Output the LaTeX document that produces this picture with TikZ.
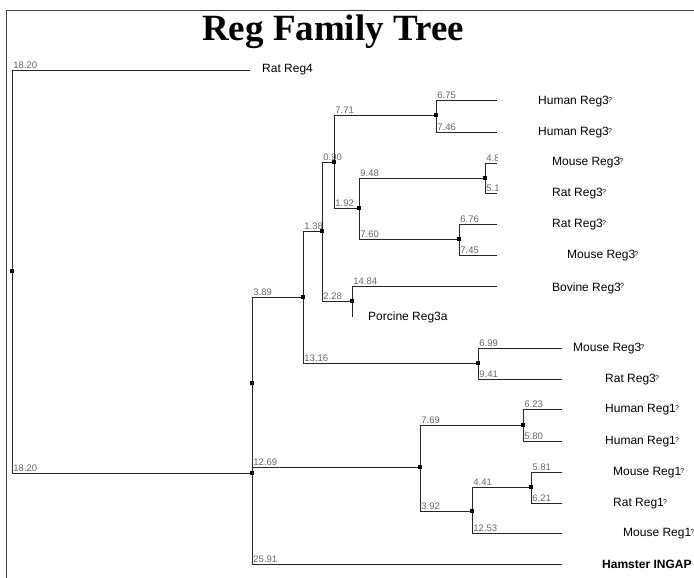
\documentclass[tikz,border=0pt]{standalone}
\usepackage{fontspec}
\setmainfont{Liberation Serif}
\setsansfont{Liberation Sans}
\usepackage{tikz}
\usetikzlibrary{positioning}

\tikzset{
  branch/.style={draw=black!85, line width=0.9pt},
  dot/.style={rectangle, fill=black, inner sep=0pt, minimum size=3.6pt},
  leaf/.style={anchor=west, inner sep=0pt, font=\sffamily\fontsize{12}{12}\selectfont},
  blen/.style={anchor=south west, inner sep=1pt, text=black!60, font=\sffamily\fontsize{9.5}{9.5}\selectfont},
}
\newcommand{\qmark}{\kern-0.8pt\raisebox{2.6pt}{\fontsize{7}{7}\selectfont ?}}

\begin{document}
\begin{tikzpicture}[x=1pt, y=-1pt]
    \useasboundingbox (0,0) rectangle (694,578);
    \draw[black!75, line width=0.8pt] (6.5,578) -- (6.5,10) -- (694,10);

    \node[font=\bfseries\fontsize{37}{37}\selectfont, anchor=base] (title) at (333,41) {Reg Family Tree};

    % inner nodes
    \node[dot] (R) at (12,271) {};
    \node[dot] (A) at (252,473) {};
    \node[dot] (Amid) at (252,383) {};
    \node[dot] (B) at (303,297) {};
    \node[dot] (C) at (322,231) {};
    \node[dot] (E) at (334,162) {};
    \node[dot] (F) at (436,115) {};
    \node[dot] (G) at (359,208) {};
    \node[dot] (H) at (485,178) {};
    \node[dot] (I) at (459,239) {};
    \node[dot] (J) at (352,301) {};
    \node[dot] (K) at (478,363) {};
    \node[dot] (L) at (420,467) {};
    \node[dot] (M) at (523,425) {};
    \node[dot] (N) at (472,511) {};
    \node[dot] (O) at (531,487) {};

    % leaf ends
    \coordinate (RR4) at (250,70);
    \coordinate (HR3a) at (497,100);
    \coordinate (HR3b) at (497,132);
    \coordinate (MR3a) at (497,163);
    \coordinate (RR3a) at (497,193);
    \coordinate (RR3b) at (497,224);
    \coordinate (MR3b) at (497,255);
    \coordinate (BR3) at (497,286);
    \coordinate (PR3) at (352,317);
    \coordinate (MR3c) at (562,348);
    \coordinate (RR3c) at (562,379);
    \coordinate (HR1a) at (562,409);
    \coordinate (HR1b) at (562,441);
    \coordinate (MR1a) at (562,472);
    \coordinate (RR1) at (562,503);
    \coordinate (MR1b) at (562,533);
    \coordinate (HIN) at (562,564);

    \draw[branch] (R) |- (RR4) node[pos=0.5, blen] {18.20};
    \draw[branch] (R) |- (A) node[pos=0.5, blen] {18.20};
    \draw[branch] (A) |- (B) node[pos=0.5, blen] {3.89};
    \draw[branch] (A) |- (L) node[pos=0.5, blen] {12.69};
    \draw[branch] (A) |- (HIN) node[pos=0.5, blen] {25.91};
    \draw[branch] (B) |- (C) node[pos=0.5, blen] {1.38};
    \draw[branch] (B) |- (K) node[pos=0.5, blen] {13.16};
    \draw[branch] (C) |- (E) node[pos=0.5, blen] {0.90};
    \draw[branch] (C) |- (J) node[pos=0.5, blen] {2.28};
    \draw[branch] (E) |- (F) node[pos=0.5, blen] {7.71};
    \draw[branch] (E) |- (G) node[pos=0.5, blen] {1.92};
    \draw[branch] (F) |- (HR3a) node[pos=0.5, blen] {6.75};
    \draw[branch] (F) |- (HR3b) node[pos=0.5, blen] {7.46};
    \draw[branch] (G) |- (H) node[pos=0.5, blen] {9.48};
    \draw[branch] (G) |- (I) node[pos=0.5, blen] {7.60};
    \draw[branch] (H) |- (MR3a) node[pos=0.5, blen] {4.8};
    \draw[branch] (H) |- (RR3a) node[pos=0.5, blen] {5.1};
    \draw[branch] (I) |- (RR3b) node[pos=0.5, blen] {6.76};
    \draw[branch] (I) |- (MR3b) node[pos=0.5, blen] {7.45};
    \draw[branch] (J) |- (BR3) node[pos=0.5, blen] {14.84};
    \draw[branch] (J) |- (PR3);
    \draw[branch] (K) |- (MR3c) node[pos=0.5, blen] {6.99};
    \draw[branch] (K) |- (RR3c) node[pos=0.5, blen] {9.41};
    \draw[branch] (L) |- (M) node[pos=0.5, blen] {7.69};
    \draw[branch] (L) |- (N) node[pos=0.5, blen] {3.92};
    \draw[branch] (M) |- (HR1a) node[pos=0.5, blen] {6.23};
    \draw[branch] (M) |- (HR1b) node[pos=0.5, blen] {5.80};
    \draw[branch] (N) |- (O) node[pos=0.5, blen] {4.41};
    \draw[branch] (N) |- (MR1b) node[pos=0.5, blen] {12.53};
    \draw[branch] (O) |- (MR1a) node[pos=0.5, blen] {5.81};
    \draw[branch] (O) |- (RR1) node[pos=0.5, blen] {6.21};

    % label panel hides the cut branch lengths
    \fill[white] (497.6,150) rectangle (530,200);

    % leaf names
    \node[leaf] (lRR4) at (262,70) {Rat Reg4};
    \node[leaf] (lHR3a) at (538,102) {Human Reg3\qmark};
    \node[leaf] (lHR3b) at (538,133) {Human Reg3\qmark};
    \node[leaf] (lMR3a) at (552,163) {Mouse Reg3\qmark};
    \node[leaf] (lRR3a) at (552,194) {Rat Reg3\qmark};
    \node[leaf] (lRR3b) at (552,225) {Rat Reg3\qmark};
    \node[leaf] (lMR3b) at (567,256) {Mouse Reg3\qmark};
    \node[leaf] (lBR3) at (552,288) {Bovine Reg3\qmark};
    \node[leaf] (lPR3) at (368,317) {Porcine Reg3a};
    \node[leaf] (lMR3c) at (573,349) {Mouse Reg3\qmark};
    \node[leaf] (lRR3c) at (605,380) {Rat Reg3\qmark};
    \node[leaf] (lHR1a) at (605,410) {Human Reg1\qmark};
    \node[leaf] (lHR1b) at (605,442) {Human Reg1\qmark};
    \node[leaf] (lMR1a) at (613,473) {Mouse Reg1\qmark};
    \node[leaf] (lRR1) at (613,504) {Rat Reg1\qmark};
    \node[leaf] (lMR1b) at (623,534) {Mouse Reg1\qmark};
    \node[leaf, font=\sffamily\bfseries\fontsize{12}{12}\selectfont] (lHIN) at (602,564) {Hamster INGAP};
\end{tikzpicture}
\end{document}
